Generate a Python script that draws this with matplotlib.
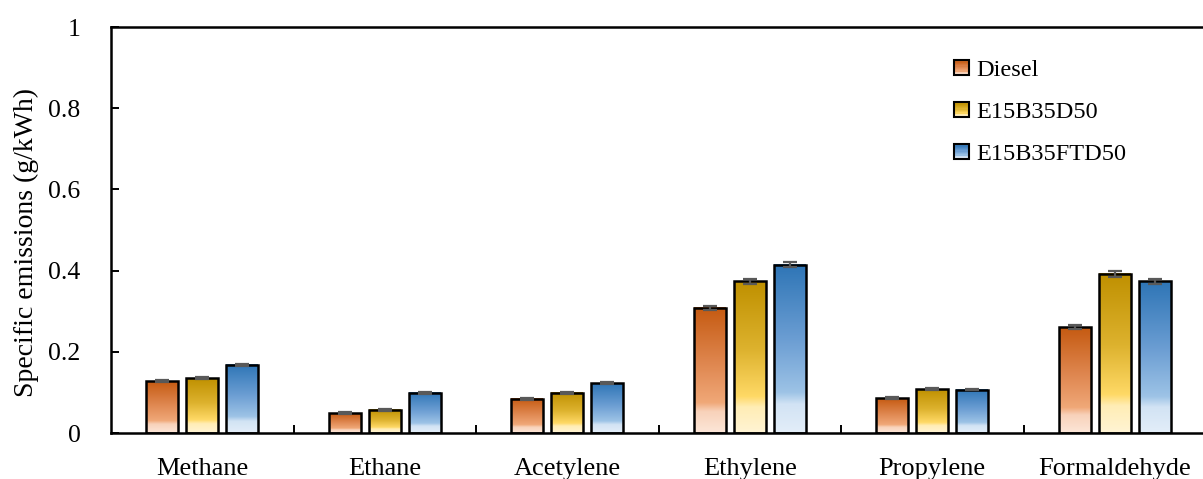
import numpy as np
import matplotlib.pyplot as plt
from matplotlib.colors import LinearSegmentedColormap
from matplotlib.patches import Rectangle
from matplotlib.legend_handler import HandlerBase

plt.rcParams['font.family'] = ['Liberation Serif', 'DejaVu Serif']

# Data
categories = ['Methane', 'Ethane', 'Acetylene', 'Ethylene', 'Propylene', 'Formaldehyde']
series = ['Diesel', 'E15B35D50', 'E15B35FTD50']
diesel = [0.128, 0.049, 0.084, 0.308, 0.086, 0.261]
e15b35d50 = [0.135, 0.057, 0.099, 0.374, 0.108, 0.392]
e15b35ftd50 = [0.168, 0.099, 0.123, 0.414, 0.107, 0.374]
diesel_err = [0.003, 0.002, 0.002, 0.005, 0.002, 0.004]
d50_err = [0.003, 0.002, 0.002, 0.006, 0.002, 0.007]
ftd50_err = [0.003, 0.002, 0.002, 0.006, 0.002, 0.006]

values = [diesel, e15b35d50, e15b35ftd50]
errors = [diesel_err, d50_err, ftd50_err]

# gradient stops: top (dark) -> near-bottom (mid) -> bottom band (light)
grad_colors = [
    ['#C55A11', '#DF8750', '#F0A878', '#F8D2BA', '#FCE6D8'],
    ['#BF9000', '#DDB22E', '#FFD966', '#FFEDB5', '#FFF4D4'],
    ['#2E75B6', '#6C9ED3', '#9DC3E6', '#D2E3F4', '#E3EEF9'],
]


def make_cmap(cols):
    stops = [0.0, 0.45, 0.76, 0.83, 1.0]
    return LinearSegmentedColormap.from_list('g', list(zip(stops, cols)))


cmaps = [make_cmap(c) for c in grad_colors]
grad = np.linspace(0, 1, 256).reshape(-1, 1)

fig = plt.figure(figsize=(12.03, 4.79), dpi=100)
ax = fig.add_axes([111 / 1203, 46 / 479, 1095 / 1203, 406 / 479])

x = np.arange(len(categories))
width = 0.175
step = 0.22

for i, (vals, errs) in enumerate(zip(values, errors)):
    pos = x + (i - 1) * step
    for p, v in zip(pos, vals):
        ax.imshow(grad, cmap=cmaps[i], aspect='auto', origin='upper',
                  extent=[p - width / 2, p + width / 2, 0, v], zorder=2,
                  interpolation='bilinear')
    ax.bar(pos, vals, width, facecolor='none', edgecolor='black', linewidth=1.8, zorder=3)
    ax.errorbar(pos, vals, yerr=errs, fmt='none', ecolor='#595959', elinewidth=1.6,
                capsize=5, capthick=1.6, zorder=4)


class GradientHandler(HandlerBase):
    def __init__(self, cmap):
        super().__init__()
        self.cmap = cmap

    def create_artists(self, legend, orig_handle, xdescent, ydescent, width, height, fontsize, trans):
        side = height * 0.9
        x0 = -xdescent + width - side
        y0 = -ydescent + (height - side) / 2
        artists = []
        n = 12
        for k in range(n):
            c = self.cmap(k / (n - 1))
            artists.append(Rectangle((x0, y0 + side * (n - 1 - k) / n), side, side / n,
                                     facecolor=c, edgecolor='none', transform=trans))
        artists.append(Rectangle((x0, y0), side, side, facecolor='none',
                                 edgecolor='black', linewidth=1.5, transform=trans))
        return artists


handles = [Rectangle((0, 0), 1, 1) for _ in series]
ax.legend(handles, series, handler_map={h: GradientHandler(cm) for h, cm in zip(handles, cmaps)},
          loc='center left', bbox_to_anchor=(0.768, 0.79), frameon=False, fontsize=17.5,
          handlelength=0.7, handletextpad=0.3, labelspacing=0.82, borderpad=0, borderaxespad=0)

ax.set_xlim(-0.5, len(categories) - 0.5)
ax.set_ylim(0, 1)
ax.set_yticks([0, 0.2, 0.4, 0.6, 0.8, 1.0])
ax.set_yticklabels(['0', '0.2', '0.4', '0.6', '0.8', '1'])
ax.set_xticks(x)
ax.set_xticklabels(categories)
ax.set_xticks(np.arange(0.5, len(categories) - 0.5), minor=True)
ax.tick_params(axis='x', which='major', length=0, pad=18, labelsize=19)
ax.tick_params(axis='x', which='minor', direction='in', length=6, width=1.4)
ax.tick_params(axis='y', direction='in', length=6, width=1.4, pad=22, labelsize=18.5)
ax.set_ylabel('Specific emissions (g/kWh)', fontsize=20)
ax.yaxis.set_label_coords(-0.066, 0.47)

for s in ax.spines.values():
    s.set_linewidth(1.8)
    s.set_color('black')

fig.savefig('out.png', dpi=100)
